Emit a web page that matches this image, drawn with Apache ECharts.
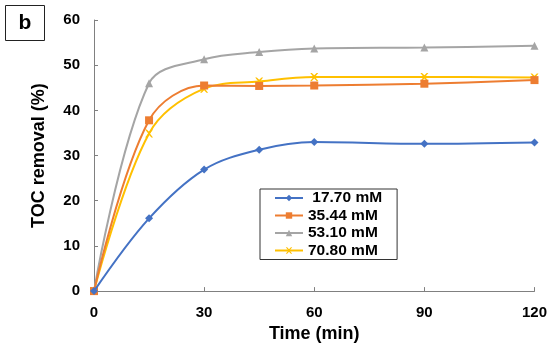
<!DOCTYPE html>
<html><head><meta charset="utf-8">
<script src="https://cdn.jsdelivr.net/npm/echarts@6/dist/echarts.min.js"></script>
<style>html,body{margin:0;padding:0;background:#fff}#c{width:550px;height:348px}</style>
</head><body><div id="c"></div>
<script>
const times = [0, 15, 30, 45, 60, 90, 120];
const s1770 = [0, 16.1, 26.9, 31.3, 33.0, 32.6, 32.9];
const s3544 = [0, 37.8, 45.5, 45.4, 45.5, 45.9, 46.7];
const s5310 = [0, 46.0, 51.3, 52.9, 53.7, 53.9, 54.3];
const s7080 = [0, 34.9, 44.8, 46.4, 47.4, 47.4, 47.3];
const names = ['17.70 mM', '35.44 mM', '53.10 mM', '70.80 mM'];
const xTicks = [0, 30, 60, 90, 120];
const yTicks = [0, 10, 20, 30, 40, 50, 60];

const colors = ['#4472C4', '#ED7D31', '#A5A5A5', '#FFC000'];
const xPath = 'path://M0,0 L2,0 L5,3 L8,0 L10,0 L6,5 L10,10 L8,10 L5,7 L2,10 L0,10 L4,5 Z';
const symbols = ['diamond', 'rect', 'triangle', xPath];
const symSizes = [8, 8, 8, 8];
const dataSets = [s1770, s3544, s5310, s7080];
const font = 'Arial, "Liberation Sans", sans-serif';

const chart = echarts.init(document.getElementById('c'));
chart.setOption({
  animation: false,
  backgroundColor: '#fff',
  grid: {left: 94, right: 15, top: 20, bottom: 54},
  graphic: [{
    type: 'group', left: 5, top: 5,
    children: [
      {type: 'rect', shape: {x: 0, y: 0, width: 39, height: 35}, style: {fill: '#fff', stroke: '#222', lineWidth: 1}},
      {type: 'text', x: 19.5, y: 17.5, style: {text: 'b', font: 'bold 21px ' + font, fill: '#000', align: 'center', verticalAlign: 'middle'}}
    ]
  }],
  legend: {
    orient: 'vertical',
    left: 260, top: 189,
    padding: [1, 15, 1, 14],
    itemGap: 1.5,
    itemWidth: 28, itemHeight: 8,
    borderColor: '#333', borderWidth: 1,
    formatter: n => n === names[0] ? ' ' + n : n,
    textStyle: {fontFamily: font, fontWeight: 'bold', fontSize: 15.5, lineHeight: 16, color: '#000'},
    data: names
  },
  xAxis: {
    type: 'value', min: 0, max: 120, interval: 30,
    name: 'Time (min)', nameLocation: 'middle', nameGap: 31,
    nameTextStyle: {fontFamily: font, fontWeight: 'bold', fontSize: 18, color: '#000'},
    axisLine: {lineStyle: {color: '#808080', width: 1}},
    axisTick: {inside: true, length: 4, lineStyle: {color: '#808080'}},
    axisLabel: {fontFamily: font, fontWeight: 'bold', fontSize: 15, color: '#000', margin: 14,
      formatter: v => xTicks.includes(v) ? String(v) : ''},
    splitLine: {show: false}
  },
  yAxis: {
    type: 'value', min: 0, max: 60, interval: 10,
    name: 'TOC removal (%)', nameLocation: 'middle', nameGap: 46,
    nameTextStyle: {fontFamily: font, fontWeight: 'bold', fontSize: 18, color: '#000'},
    axisLine: {show: true, lineStyle: {color: '#808080', width: 1}},
    axisTick: {show: true, inside: true, length: 4, lineStyle: {color: '#808080'}},
    axisLabel: {fontFamily: font, fontWeight: 'bold', fontSize: 15, color: '#000', margin: 14,
      formatter: v => yTicks.includes(v) ? String(v) : ''},
    splitLine: {show: false}
  },
  series: dataSets.map((d, i) => ({
    name: names[i],
    type: 'line',
    smooth: 0.35,
    data: times.map((t, j) => [t, d[j]]),
    symbol: symbols[i],
    symbolSize: symSizes[i],
    showAllSymbol: true,
    itemStyle: {color: colors[i]},
    lineStyle: {color: colors[i], width: 2},
    z: 10 - i
  }))
});
</script></body></html>
